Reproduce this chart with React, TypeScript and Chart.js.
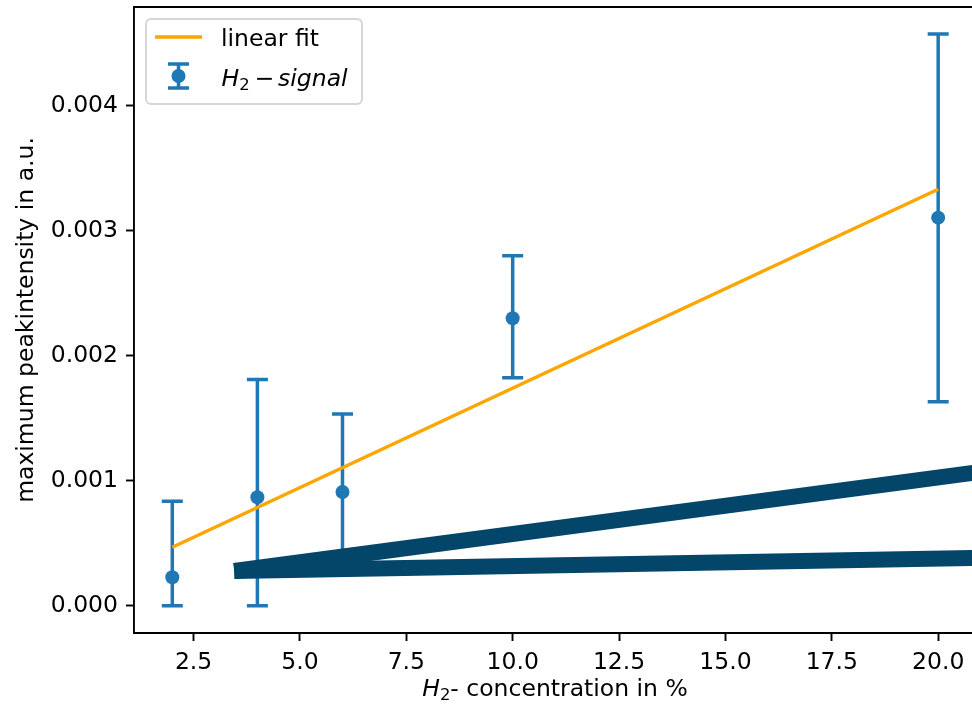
import React, { useEffect, useRef } from "react";
import { Chart, registerables } from "chart.js";

Chart.register(...registerables);

// ---- data ----
const CONCENTRATION = [2, 4, 6, 10, 20];
const SIGNAL = [0.000228, 0.000868, 0.00091, 0.0023, 0.003105];
const SIGNAL_LOW = [0.0, 0.0, 0.00029, 0.001825, 0.001633];
const SIGNAL_HIGH = [0.000836, 0.00181, 0.001534, 0.0028, 0.004574];
const FIT_X = [2, 20];
const FIT_Y = [0.000468, 0.003332];
const MARK_A_X = [3.455, 21];
const MARK_A_Y = [0.000278, 0.001071];
const MARK_B_X = [3.455, 21];
const MARK_B_Y = [0.000278, 0.000383];
const X_TICKS = [2.5, 5, 7.5, 10, 12.5, 15, 17.5, 20];
const Y_TICKS = [0, 0.001, 0.002, 0.003, 0.004];
const X_RANGE = [1.1, 20.795];
const Y_RANGE = [-0.000218, 0.00479];

const BLUE = "#1f77b4";
const ORANGE = "#ffa500";
const NAVY = "#03466a";
const FONT_FAMILY = "'DejaVu Sans', sans-serif";
const FS = 23.5;

function drawErrorBar(ctx: CanvasRenderingContext2D, x: number, yLow: number, yHigh: number) {
  ctx.strokeStyle = BLUE;
  ctx.lineWidth = 3.5;
  ctx.lineCap = "butt";
  ctx.beginPath();
  ctx.moveTo(x, yLow);
  ctx.lineTo(x, yHigh);
  ctx.moveTo(x - 10.5, yLow);
  ctx.lineTo(x + 10.5, yLow);
  ctx.moveTo(x - 10.5, yHigh);
  ctx.lineTo(x + 10.5, yHigh);
  ctx.stroke();
}

const errorBarPlugin = {
  id: "errorBars",
  beforeDatasetsDraw(chart: any) {
    const { ctx, chartArea, scales } = chart;
    ctx.save();
    ctx.beginPath();
    ctx.rect(chartArea.left, chartArea.top, chartArea.right - chartArea.left, chartArea.bottom - chartArea.top);
    ctx.clip();
    CONCENTRATION.forEach((c, i) => {
      const x = scales.x.getPixelForValue(c);
      drawErrorBar(ctx, x, scales.y.getPixelForValue(SIGNAL_LOW[i]), scales.y.getPixelForValue(SIGNAL_HIGH[i]));
    });
    ctx.restore();
  },
};

function drawH2(ctx: CanvasRenderingContext2D, x: number, baseline: number) {
  ctx.textBaseline = "alphabetic";
  ctx.textAlign = "left";
  ctx.font = `italic ${FS}px ${FONT_FAMILY}`;
  ctx.fillText("H", x, baseline);
  let cx = x + ctx.measureText("H").width;
  ctx.font = `${FS * 0.7}px ${FONT_FAMILY}`;
  ctx.fillText("2", cx, baseline + 4);
  cx += ctx.measureText("2").width;
  return cx;
}

const annotationPlugin = {
  id: "annotations",
  afterDraw(chart: any) {
    const { ctx, chartArea } = chart;
    ctx.save();
    // top spine
    ctx.strokeStyle = "#000";
    ctx.lineWidth = 1.9;
    ctx.beginPath();
    ctx.moveTo(chartArea.left - 0.95, chartArea.top);
    ctx.lineTo(chartArea.right + 5, chartArea.top);
    ctx.stroke();

    ctx.fillStyle = "#000";
    // x axis title
    ctx.font = `italic ${FS}px ${FONT_FAMILY}`;
    const wH = ctx.measureText("H").width;
    ctx.font = `${FS * 0.7}px ${FONT_FAMILY}`;
    const w2 = ctx.measureText("2").width;
    ctx.font = `${FS}px ${FONT_FAMILY}`;
    const xRest = "- concentration in %";
    const wRest = ctx.measureText(xRest).width;
    const total = wH + w2 + wRest;
    const startX = 555 - total / 2;
    const after = drawH2(ctx, startX, 696);
    ctx.font = `${FS}px ${FONT_FAMILY}`;
    ctx.fillText(xRest, after, 696);

    // y axis title
    ctx.save();
    ctx.translate(33, 320);
    ctx.rotate(-Math.PI / 2);
    ctx.textAlign = "center";
    ctx.textBaseline = "alphabetic";
    ctx.font = `${FS}px ${FONT_FAMILY}`;
    ctx.fillText("maximum peakintensity in a.u.", 0, 0);
    ctx.restore();

    // legend
    const lx = 146, ly = 19, lw = 216, lh = 85;
    ctx.beginPath();
    (ctx as any).roundRect(lx, ly, lw, lh, 5);
    ctx.fillStyle = "rgba(255,255,255,0.8)";
    ctx.fill();
    ctx.strokeStyle = "rgba(204,204,204,0.8)";
    ctx.lineWidth = 2;
    ctx.stroke();

    ctx.strokeStyle = ORANGE;
    ctx.lineWidth = 3.5;
    ctx.beginPath();
    ctx.moveTo(155, 37);
    ctx.lineTo(202, 37);
    ctx.stroke();
    ctx.fillStyle = "#000";
    ctx.font = `${FS}px ${FONT_FAMILY}`;
    ctx.textAlign = "left";
    ctx.textBaseline = "alphabetic";
    ctx.fillText("linear fit", 221, 45.5);

    drawErrorBar(ctx, 178.5, 88, 64);
    ctx.fillStyle = BLUE;
    ctx.beginPath();
    ctx.arc(178.5, 76, 7, 0, Math.PI * 2);
    ctx.fill();

    ctx.fillStyle = "#000";
    const sx = 221.5;
    drawH2(ctx, sx, 85.5);
    ctx.font = `${FS}px ${FONT_FAMILY}`;
    ctx.fillText("\u2212", sx + 33.3, 85.5);
    ctx.font = `italic ${FS}px ${FONT_FAMILY}`;
    ctx.fillText("signal", sx + 56.6, 85.5);
    ctx.restore();
  },
};

export default function App() {
  const canvasRef = useRef<HTMLCanvasElement | null>(null);

  useEffect(() => {
    const canvas = canvasRef.current;
    if (!canvas) return;
    const tickFont = { family: FONT_FAMILY, size: FS };
    const chart = new Chart(canvas, {
      type: "scatter",
      data: {
        datasets: [
          {
            label: "mark-a",
            data: MARK_A_X.map((x, i) => ({ x, y: MARK_A_Y[i] })),
            showLine: true,
            borderColor: NAVY,
            backgroundColor: NAVY,
            borderWidth: 16,
            pointRadius: 0,
            order: 0,
          },
          {
            label: "mark-b",
            data: MARK_B_X.map((x, i) => ({ x, y: MARK_B_Y[i] })),
            showLine: true,
            borderColor: NAVY,
            backgroundColor: NAVY,
            borderWidth: 16,
            pointRadius: 0,
            order: 0,
          },
          {
            label: "linear fit",
            data: FIT_X.map((x, i) => ({ x, y: FIT_Y[i] })),
            showLine: true,
            borderColor: ORANGE,
            backgroundColor: ORANGE,
            borderWidth: 3.5,
            pointRadius: 0,
            order: 1,
          },
          {
            label: "H2 - signal",
            data: CONCENTRATION.map((x, i) => ({ x, y: SIGNAL[i] })),
            showLine: false,
            backgroundColor: BLUE,
            borderColor: BLUE,
            pointRadius: 7,
            pointBorderWidth: 0,
            order: 2,
          },
        ],
      },
      options: {
        animation: false,
        responsive: false,
        devicePixelRatio: 1,
        layout: { autoPadding: false, padding: { top: 7, right: 0, left: 0, bottom: 0 } },
        plugins: { legend: { display: false }, tooltip: { enabled: false } },
        scales: {
          x: {
            type: "linear",
            min: X_RANGE[0],
            max: X_RANGE[1],
            afterBuildTicks: (scale: any) => {
              scale.ticks = X_TICKS.map((v) => ({ value: v }));
            },
            afterFit: (scale: any) => {
              scale.height = 75;
              scale.paddingLeft = 0;
              scale.paddingRight = 0;
              scale.paddingTop = 0;
              scale.paddingBottom = 0;
            },
            ticks: {
              autoSkip: false,
              maxRotation: 0,
              minRotation: 0,
              padding: 8,
              color: "#000",
              font: tickFont,
              callback: (v: any) => Number(v).toFixed(1),
            },
            grid: {
              drawOnChartArea: false,
              drawTicks: true,
              tickLength: 8,
              tickWidth: 1.9,
              tickColor: "#000",
            },
            border: { display: true, color: "#000", width: 1.9 },
          },
          y: {
            type: "linear",
            min: Y_RANGE[0],
            max: Y_RANGE[1],
            afterBuildTicks: (scale: any) => {
              scale.ticks = Y_TICKS.map((v) => ({ value: v }));
            },
            afterFit: (scale: any) => {
              scale.width = 134;
              scale.paddingLeft = 0;
              scale.paddingRight = 0;
              scale.paddingTop = 0;
              scale.paddingBottom = 0;
            },
            ticks: {
              padding: 8,
              color: "#000",
              font: tickFont,
              callback: (v: any) => Number(v).toFixed(3),
            },
            grid: {
              drawOnChartArea: false,
              drawTicks: true,
              tickLength: 8,
              tickWidth: 1.9,
              tickColor: "#000",
            },
            border: { display: true, color: "#000", width: 1.9 },
          },
        },
      },
      plugins: [errorBarPlugin, annotationPlugin],
    } as any);
    return () => chart.destroy();
  }, []);

  return (
    <div style={{ position: "fixed", left: 0, top: 0, width: 972, height: 708, overflow: "hidden", background: "#fff" }}>
      <canvas ref={canvasRef} width={972} height={708} style={{ display: "block" }} />
    </div>
  );
}
